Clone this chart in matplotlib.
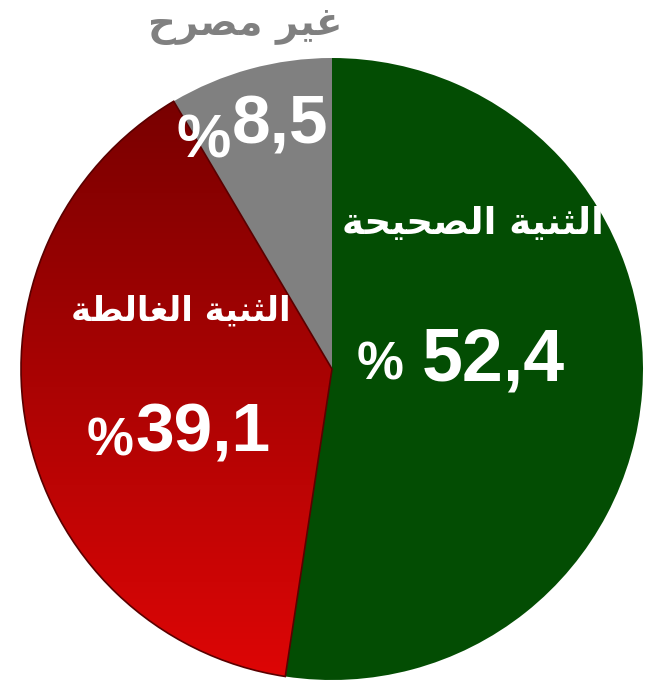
import matplotlib
matplotlib.use("Agg")
import matplotlib.pyplot as plt
import numpy as np
from matplotlib.colors import LinearSegmentedColormap

# Data
labels = ["الثنية الصحيحة", "الثنية الغالطة", "غير مصرح"]
values = [52.4, 39.1, 8.5]
value_labels = ["52,4", "39,1", "8,5"]
colors = ["#034d03", "#b00404", "#808080"]

W, H = 654, 683

# Arabic letter forms: isolated, final, initial, medial
FORMS = {
    "ا": (0xFE8D, 0xFE8E, None, None),
    "ل": (0xFEDD, 0xFEDE, 0xFEDF, 0xFEE0),
    "ث": (0xFE99, 0xFE9A, 0xFE9B, 0xFE9C),
    "ن": (0xFEE5, 0xFEE6, 0xFEE7, 0xFEE8),
    "ي": (0xFEF1, 0xFEF2, 0xFEF3, 0xFEF4),
    "ة": (0xFE93, 0xFE94, None, None),
    "ص": (0xFEB9, 0xFEBA, 0xFEBB, 0xFEBC),
    "ح": (0xFEA1, 0xFEA2, 0xFEA3, 0xFEA4),
    "غ": (0xFECD, 0xFECE, 0xFECF, 0xFED0),
    "ط": (0xFEC1, 0xFEC2, 0xFEC3, 0xFEC4),
    "ر": (0xFEAD, 0xFEAE, None, None),
    "م": (0xFEE1, 0xFEE2, 0xFEE3, 0xFEE4),
}


def shape(s):
    # matplotlib has no Arabic shaping: pick contextual forms, then reverse
    out = []
    for i, ch in enumerate(s):
        if ch not in FORMS:
            out.append(ch)
            continue
        prev = s[i - 1] if i > 0 else ""
        nxt = s[i + 1] if i + 1 < len(s) else ""
        f = FORMS[ch]
        jp = prev in FORMS and FORMS[prev][2] is not None
        jn = f[2] is not None and nxt in FORMS
        if jp and jn:
            c = f[3]
        elif jp:
            c = f[1]
        elif jn:
            c = f[2]
        else:
            c = f[0]
        out.append(chr(c))
    return "".join(reversed(out))


fig = plt.figure(figsize=(W / 100, H / 100), dpi=100)
ax = fig.add_axes([0, 0, 1, 1])

cx, cy, r = 332, H - 369, 311
wedges, _ = ax.pie(values, colors=colors, startangle=90, counterclock=False,
                   center=(cx, cy), radius=r,
                   wedgeprops=dict(linewidth=0))
ax.set_xlim(0, W)
ax.set_ylim(0, H)
ax.set_aspect("equal")
ax.axis("off")

# red gradient, dark at top to bright at bottom
red_cmap = LinearSegmentedColormap.from_list("reds", ["#780000", "#de0606"])
grad = np.linspace(0, 1, 256).reshape(-1, 1)
img = ax.imshow(grad, cmap=red_cmap, extent=(cx - r, cx, cy - r, H - 95),
                aspect="auto", zorder=1.5)
img.set_clip_path(wedges[1])
wedges[1].set_edgecolor("#5a0000")
wedges[1].set_linewidth(1.2)
wedges[1].set_zorder(1.6)
wedges[1].set_facecolor("none")
ax.set_xlim(0, W)
ax.set_ylim(0, H)

arfont = dict(family="DejaVu Sans", fontweight="bold")
numfont = dict(family="Liberation Sans", fontweight="bold", color="white")


def fit_text(x, y, s, width, **kw):
    t = ax.text(x, H - y, s, ha="center", va="center", fontsize=20, **kw)
    fig.canvas.draw()
    bb = t.get_window_extent()
    t.set_fontsize(20 * width / bb.width)
    return t


# Arabic labels
fit_text(473, 224, shape(labels[0]), 262, color="white", **arfont)
fit_text(181, 311, shape(labels[1]), 220, color="white", **arfont)
fit_text(245, 26, shape(labels[2]), 194, color="#808080", **arfont)

# Percent values
ax.text(565, H - 380, value_labels[0], ha="right", va="baseline", fontsize=53, **numfont)
ax.text(403, H - 380, "%", ha="right", va="baseline", fontsize=38, **numfont)
ax.text(271, H - 452, value_labels[1], ha="right", va="baseline", fontsize=50, **numfont)
ax.text(133, H - 455, "%", ha="right", va="baseline", fontsize=38, **numfont)
ax.text(328, H - 143, value_labels[2], ha="right", va="baseline", fontsize=50, **numfont)
ax.text(231, H - 158, "%", ha="right", va="baseline", fontsize=44, **numfont)

fig.savefig("out.png", dpi=100)
